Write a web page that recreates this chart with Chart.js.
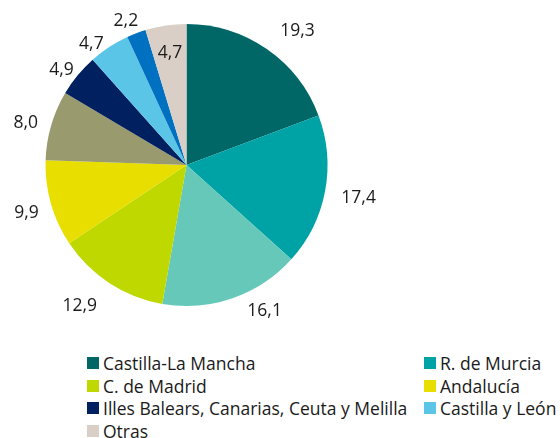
<!DOCTYPE html>
<html>
<head>
<meta charset="utf-8">
<script src="https://cdn.jsdelivr.net/npm/chart.js@4"></script>
<style>
  body { margin: 0; background: #fff; font-family: "Open Sans", sans-serif; }
  #wrap { position: relative; width: 560px; height: 438px; }
  #pie { position: absolute; left: 0; top: 0; }
  #legend {
    position: absolute; left: 87px; top: 352px;
    display: grid; grid-template-columns: 337px auto;
    font-size: 17.5px; color: #1a1a1a;
  }
  .item { height: 22.7px; line-height: 22.7px; white-space: nowrap; position: relative; padding-left: 16px; }
  .item span { position: absolute; left: 0; top: 5px; width: 12px; height: 12px; }
</style>
</head>
<body>
<div id="wrap">
  <canvas id="pie" width="560" height="340"></canvas>
  <div id="legend"></div>
</div>
<script>
// Share by region (%), slices in clockwise order from 12 o'clock
const regions = [
  "Castilla-La Mancha", "R. de Murcia", "", "C. de Madrid", "Andalucía", "",
  "Illes Balears, Canarias, Ceuta y Melilla", "Castilla y León", "", "Otras"
];
const shares = [19.3, 17.4, 16.1, 12.9, 9.9, 8.0, 4.9, 4.7, 2.2, 4.7];
const colors = [
  "#006666", "#00A3A5", "#66C8B9", "#BFD800", "#E8DF00",
  "#9A9A6F", "#002060", "#5BC5E8", "#0070C0", "#D9CFC7"
];

// label placement tweaks (px) to follow the original layout
const labelNudge = [[13, 8], [0, 0], [23, -14], [-13, -3], [4, 1], [3, 6], [-4, 5], [-10, 9], [-6, -1], [0, 0]];

const outsideLabels = {
  id: "outsideLabels",
  afterDatasetsDraw(chart) {
    const ctx = chart.ctx;
    const meta = chart.getDatasetMeta(0);
    ctx.save();
    ctx.font = "17.5px 'Open Sans', sans-serif";
    ctx.fillStyle = "#1a1a1a";
    ctx.textAlign = "center";
    ctx.textBaseline = "middle";
    meta.data.forEach((arc, i) => {
      const text = shares[i].toFixed(1).replace(".", ",");
      const mid = (arc.startAngle + arc.endAngle) / 2;
      const cos = Math.cos(mid), sin = Math.sin(mid);
      let d;
      if (i === shares.length - 1) {
        d = arc.outerRadius * 0.8;
      } else {
        const w = ctx.measureText(text).width;
        const gap = shares[i] >= 8 ? 16 : 2;
        d = arc.outerRadius + gap + Math.abs(cos) * w / 2 + Math.abs(sin) * 6.5;
      }
      const x = arc.x + cos * d + labelNudge[i][0];
      const y = arc.y + sin * d + labelNudge[i][1];
      ctx.fillText(text, x, y);
    });
    ctx.restore();
  }
};

new Chart(document.getElementById("pie").getContext("2d"), {
  type: "pie",
  data: {
    labels: regions,
    datasets: [{
      data: shares,
      backgroundColor: colors,
      borderWidth: 0
    }]
  },
  options: {
    responsive: false,
    animation: false,
    layout: { padding: { left: 45.5, top: 24, right: 232.5, bottom: 34 } },
    plugins: {
      legend: { display: false },
      tooltip: { enabled: false }
    }
  },
  plugins: [outsideLabels]
});

// legend: only the named regions
const legend = document.getElementById("legend");
regions.forEach((name, i) => {
  if (!name) return;
  const item = document.createElement("div");
  item.className = "item";
  item.innerHTML = '<span style="background:' + colors[i] + '"></span>' + name;
  legend.appendChild(item);
});
</script>
</body>
</html>
